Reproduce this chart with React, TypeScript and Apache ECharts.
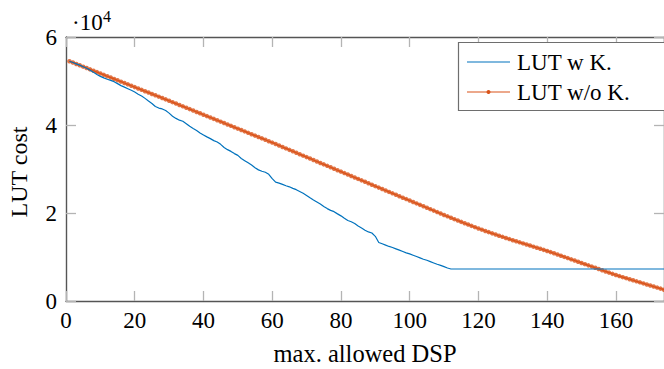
import React, { useEffect, useRef } from "react";
import * as echarts from "echarts";

// orange series "LUT w/o K.", x = 1..174
const orangeValues: number[] = [
  54500, 54190, 53880, 53570, 53260, 52950, 52640, 52330, 52020, 51710,
  51400, 51090, 50780, 50470, 50160, 49850, 49540, 49230, 48920, 48610,
  48300, 47990, 47680, 47370, 47060, 46750, 46440, 46130, 45820, 45510,
  45190, 44870, 44560, 44240, 43920, 43610, 43290, 42970, 42660, 42340,
  42020, 41710, 41390, 41070, 40760, 40440, 40120, 39810, 39490, 39170,
  38860, 38540, 38220, 37910, 37590, 37270, 36960, 36640, 36320, 36000,
  35670, 35340, 35010, 34680, 34350, 34020, 33690, 33360, 33030, 32700,
  32370, 32040, 31710, 31380, 31050, 30720, 30390, 30060, 29730, 29400,
  29070, 28740, 28410, 28080, 27750, 27420, 27090, 26760, 26430, 26100,
  25770, 25450, 25120, 24790, 24470, 24140, 23810, 23480, 23160, 22830,
  22500, 22180, 21850, 21520, 21200, 20870, 20540, 20210, 19890, 19560,
  19240, 18910, 18600, 18280, 17980, 17670, 17370, 17070, 16780, 16490,
  16210, 15920, 15650, 15370, 15110, 14840, 14580, 14320, 14070, 13820,
  13580, 13330, 13090, 12840, 12600, 12350, 12110, 11870, 11620, 11380,
  11110, 10840, 10570, 10300, 10020, 9750, 9470, 9200, 8920, 8650,
  8370, 8100, 7820, 7550, 7270, 7000, 6720, 6450, 6170, 5900,
  5660, 5420, 5190, 4950, 4710, 4470, 4240, 4000, 3760, 3520,
  3280, 3050, 2810, 2570,
];

// blue series "LUT w K.", x = 1..112, then a flat plateau
const blueValues: number[] = [
  54500, 54200, 53900, 53600, 53250, 52900, 52450, 52000, 51500, 51050,
  50700, 50400, 50150, 49850, 49400, 48950, 48600, 48250, 47900, 47500,
  47000, 46600, 46050, 45450, 44900, 44200, 43850, 43650, 43300, 42700,
  42000, 41500, 41100, 40850, 40300, 39700, 39200, 38750, 38200, 37750,
  37300, 36900, 36450, 36150, 35600, 34900, 34400, 34000, 33500, 33100,
  32400, 31900, 31400, 30900, 30300, 29800, 29500, 29250, 28800, 27800,
  27000, 26800, 26500, 26200, 25950, 25600, 25300, 24900, 24500, 24000,
  23450, 22950, 22500, 22050, 21500, 21000, 20600, 20300, 19800, 19350,
  18800, 18300, 18000, 17600, 17050, 16600, 16100, 15700, 15450, 14700,
  13300, 13000, 12700, 12400, 12150, 11850, 11550, 11250, 10950, 10700,
  10400, 10100, 9800, 9500, 9250, 8950, 8650, 8350, 8100, 7800,
  7500, 7270,
];
const bluePlateau: [number, number] = [174, 7270];

const seriesNames = ["LUT w K.", "LUT w/o K."];
const seriesColors = ["#0072BD", "#D95319"];
const xTicks = [0, 20, 40, 60, 80, 100, 120, 140, 160];
const yTicks = [0, 20000, 40000, 60000];

const FONT = "'Liberation Serif', 'Times New Roman', serif";
const AXIS_COLOR = "#555555";
const TICK_COLOR = "#b4b4b4";

export default function App() {
  const ref = useRef<HTMLDivElement>(null);

  useEffect(() => {
    document.body.style.margin = "0";
    const chart = echarts.init(ref.current!, undefined, { renderer: "svg" });
    const orangeData = orangeValues.map((v, i) => [i + 1, v]);
    const blueData = blueValues.map((v, i) => [i + 1, v]);
    blueData.push(bluePlateau);

    const xCommon = {
      type: "value" as const,
      min: 0,
      max: 174,
      interval: 20,
      splitLine: { show: false },
      axisLine: { show: true, onZero: false, lineStyle: { color: AXIS_COLOR, width: 1.4 } },
      axisTick: { show: true, inside: true, length: 10, lineStyle: { color: TICK_COLOR, width: 1.3 } },
    };
    const yCommon = {
      type: "value" as const,
      min: 0,
      max: 60000,
      interval: 20000,
      splitLine: { show: false },
      axisLine: { show: true, onZero: false, lineStyle: { color: AXIS_COLOR, width: 1.4 } },
      axisTick: { show: true, inside: true, length: 10, lineStyle: { color: TICK_COLOR, width: 1.3 } },
    };

    const legendX = 458;
    const legendY = 42;
    const rowY = [62, 92];
    const legendGraphics: any[] = [
      {
        type: "rect",
        shape: { x: legendX + 0.5, y: legendY + 0.5, width: 230, height: 68 },
        style: { fill: "#ffffff", stroke: "#6e6e6e", lineWidth: 1.2 },
        z: 100,
      },
    ];
    seriesNames.forEach((name, i) => {
      legendGraphics.push({
        type: "line",
        shape: { x1: 467, y1: rowY[i], x2: 510, y2: rowY[i] },
        style: { stroke: seriesColors[i], lineWidth: 1.2 },
        z: 101,
      });
      if (i === 1) {
        legendGraphics.push({
          type: "circle",
          shape: { cx: 488.5, cy: rowY[i], r: 2 },
          style: { fill: seriesColors[i] },
          z: 102,
        });
      }
      legendGraphics.push({
        type: "text",
        x: 517,
        y: rowY[i],
        style: {
          text: name,
          font: `23px ${FONT}`,
          fill: "#000",
          textAlign: "left",
          textVerticalAlign: "middle",
        },
        z: 102,
      });
    });

    chart.setOption({
      animation: false,
      backgroundColor: "#ffffff",
      grid: { left: 66, top: 37, right: -2, bottom: 68, containLabel: false },
      xAxis: [
        {
          ...xCommon,
          position: "bottom",
          axisLabel: {
            show: true,
            margin: 8,
            fontFamily: FONT,
            fontSize: 23,
            color: "#000",
            showMaxLabel: false,
            formatter: (v: number) => (xTicks.includes(v) ? String(v) : ""),
          },
        },
        { ...xCommon, position: "top", axisLabel: { show: false } },
      ],
      yAxis: [
        {
          ...yCommon,
          position: "left",
          axisLabel: {
            show: true,
            margin: 9,
            fontFamily: FONT,
            fontSize: 23,
            color: "#000",
            formatter: (v: number) => (yTicks.includes(v) ? String(v / 10000) : ""),
          },
        },
        { ...yCommon, position: "right", axisLabel: { show: false } },
      ],
      graphic: [
        {
          type: "text",
          x: 72,
          y: 22,
          style: {
            text: "·10",
            font: `23px ${FONT}`,
            fill: "#000",
            textAlign: "left",
            textVerticalAlign: "middle",
          },
        },
        {
          type: "text",
          x: 103,
          y: 16,
          style: {
            text: "4",
            font: `16px ${FONT}`,
            fill: "#000",
            textAlign: "left",
            textVerticalAlign: "middle",
          },
        },
        {
          type: "text",
          x: 19,
          y: 172,
          rotation: Math.PI / 2,
          style: {
            text: "LUT cost",
            font: `24px ${FONT}`,
            fill: "#000",
            textAlign: "center",
            textVerticalAlign: "middle",
          },
        },
        {
          type: "text",
          x: 365,
          y: 353,
          style: {
            text: "max. allowed DSP",
            font: `24.5px ${FONT}`,
            fill: "#000",
            textAlign: "center",
            textVerticalAlign: "middle",
          },
        },
        ...legendGraphics,
      ],
      series: [
        {
          name: seriesNames[0],
          type: "line",
          data: blueData,
          showSymbol: false,
          symbol: "none",
          lineStyle: { color: seriesColors[0], width: 1.2 },
          itemStyle: { color: seriesColors[0] },
          z: 3,
        },
        {
          name: seriesNames[1],
          type: "line",
          data: orangeData,
          symbol: "circle",
          symbolSize: 4.5,
          showSymbol: true,
          lineStyle: { color: seriesColors[1], width: 1.2 },
          itemStyle: { color: seriesColors[1], opacity: 0.8 },
          z: 2,
        },
      ],
    });
    return () => chart.dispose();
  }, []);

  return (
    <div
      ref={ref}
      style={{ position: "fixed", left: 0, top: 0, width: 664, height: 369 }}
    />
  );
}
